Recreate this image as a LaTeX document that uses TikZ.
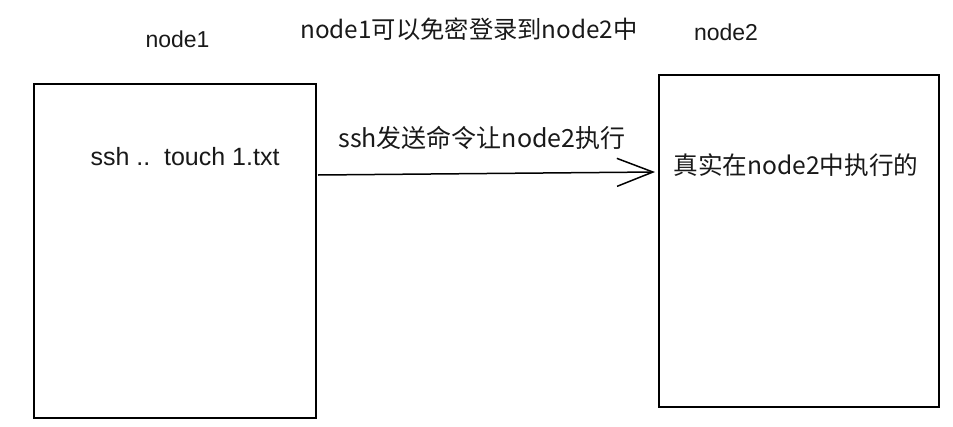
\documentclass[tikz,border=0pt]{standalone}
\usepackage{fontspec}
\setmainfont{Liberation Sans}
\newfontfamily\cjk{Noto Sans CJK SC}
\usetikzlibrary{arrows.meta}
\begin{document}
\begin{tikzpicture}[x=1pt,y=-1pt,
  boxstyle/.style={draw=black, line width=1.5pt, inner sep=0pt},
  lat/.style={inner sep=0pt, anchor=base, font=\fontsize{23}{26}\selectfont, text=black!90},
  han/.style={inner sep=0pt, anchor=base, text=black!90},
  conn/.style={line width=1.5pt, -{Straight Barb[length=36pt,width=28pt,line width=1.5pt]}}]
\useasboundingbox (0,0) rectangle (953,426);
\fill[white] (0,0) rectangle (953,426);
\node[boxstyle, minimum width=282pt, minimum height=334pt] (box1) at (175,251) {};
\node[boxstyle, minimum width=280pt, minimum height=332pt] (box2) at (799,241) {};
\node[lat] (lab1) at (177.5,47) {node1};
\node[lat] (lab2) at (726,40) {node2};
\node[han, font=\cjk\fontsize{24.3}{28}\selectfont] (title) at (469,38) {node1可以免密登录到node2中};
\node[lat, font=\fontsize{25}{28}\selectfont] (cmd) at (185,165) {ssh ..\ \ touch 1.txt};
\node[han, font=\cjk\fontsize{25}{28}\selectfont] (send) at (482,147) {ssh发送命令让node2执行};
\node[han, font=\cjk\fontsize{24.6}{28}\selectfont] (real) at (796,174) {真实在node2中执行的};
\coordinate (start) at (318,175);
\coordinate (tip) at (655,172);
\draw[conn] (start) -- (tip);
\end{tikzpicture}
\end{document}
